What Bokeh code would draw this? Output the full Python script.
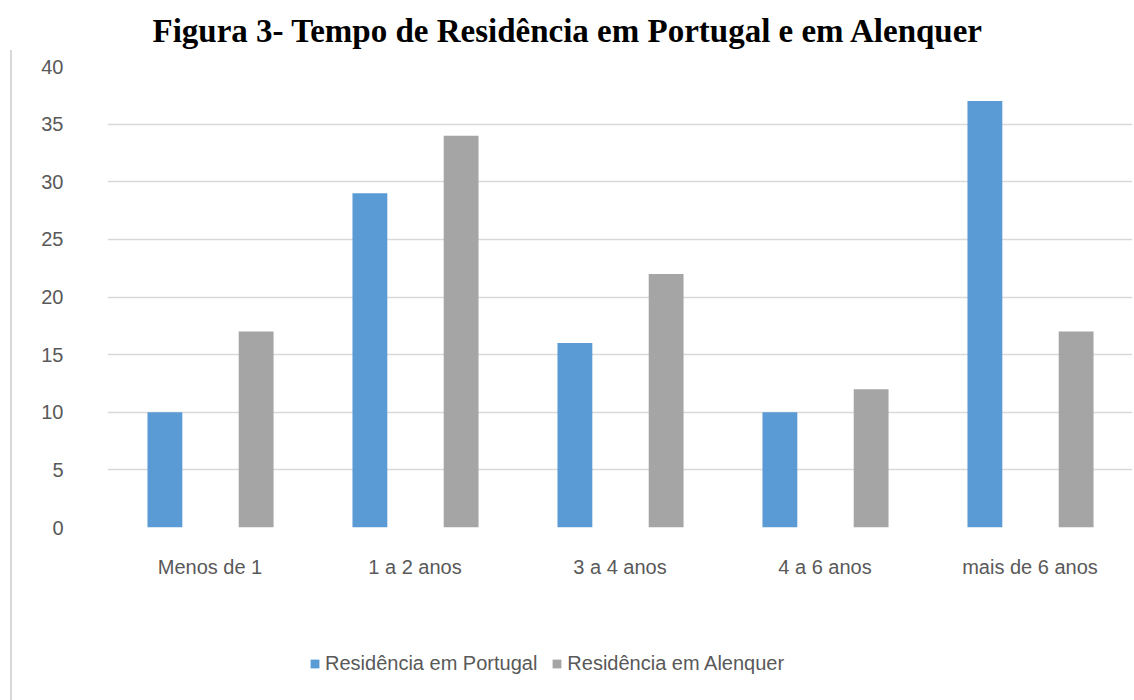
from bokeh.plotting import figure
from bokeh.models import (FactorRange, ColumnDataSource, Legend, LegendItem, Label,
                          FixedTicker, Div)
from bokeh.layouts import row, column
from bokeh.transform import dodge
from bokeh.embed import file_html
from bokeh.resources import INLINE

categories = ["Menos de 1", "1 a 2 anos", "3 a 4 anos", "4 a 6 anos", "mais de 6 anos"]
portugal = [10, 29, 16, 10, 37]
alenquer = [17, 34, 22, 12, 17]
series_names = ["Residência em Portugal", "Residência em Alenquer"]
title_text = "Figura 3- Tempo de Residência em Portugal e em Alenquer"
y_ticks = [0, 5, 10, 15, 20, 25, 30, 35, 40]

BLUE = "#5B9BD5"
GREY = "#A5A5A5"
TXT = "#595959"
FONT = "Liberation Sans"
W = 1111


def bare(fig):
    fig.axis.visible = False
    fig.grid.visible = False
    fig.outline_line_color = None
    fig.border_fill_color = "white"
    fig.background_fill_color = "white"


# title panel
pt = figure(x_range=(0, 1), y_range=(0, 1), width=W, height=50, output_backend="svg",
            toolbar_location=None, min_border_left=0, min_border_right=0,
            min_border_top=0, min_border_bottom=0)
bare(pt)
pt.add_layout(Label(x=45, y=20, x_units="screen", y_units="screen", text=title_text,
                    text_font="Liberation Serif", text_font_style="bold",
                    text_font_size="33px", text_color="#000000",
                    text_baseline="alphabetic", text_align="left"))

# main chart
src = ColumnDataSource(dict(cat=categories, pt=portugal, al=alenquer))

p = figure(x_range=FactorRange(*categories, range_padding=0), y_range=(0, 40),
           width=W, height=550, output_backend="svg", toolbar_location=None,
           min_border_left=85, min_border_right=1, min_border_top=16, min_border_bottom=73)
p.outline_line_color = None
p.background_fill_color = "white"
p.border_fill_color = "white"

r1 = p.vbar(x=dodge("cat", -0.22, range=p.x_range), top="pt", width=0.17, source=src,
            fill_color=BLUE, line_color=None)
r2 = p.vbar(x=dodge("cat", 0.225, range=p.x_range), top="al", width=0.17, source=src,
            fill_color=GREY, line_color=None)

p.xgrid.grid_line_color = None
p.ygrid.grid_line_color = "#D9D9D9"
p.ygrid.grid_line_width = 1.5
p.ygrid.ticker = FixedTicker(ticks=y_ticks)
p.yaxis.ticker = FixedTicker(ticks=y_ticks)

for ax in (p.xaxis, p.yaxis):
    ax.axis_line_color = None
    ax.major_tick_line_color = None
    ax.minor_tick_line_color = None
    ax.major_label_text_color = TXT
    ax.major_label_text_font = FONT
    ax.major_label_text_font_size = "20px"
p.yaxis.major_label_standoff = 38
p.xaxis.major_label_standoff = 22

# legend panel (swatches come from two zero-height placeholder bars)
p2 = figure(x_range=(0, 1), y_range=(0, 1), width=W, height=99,
            output_backend="svg", toolbar_location=None,
            min_border_left=0, min_border_right=0, min_border_top=0, min_border_bottom=0)
bare(p2)
dummy = ColumnDataSource(dict(x=[0.5], top=[0]))
d1 = p2.vbar(x="x", top="top", width=0.01, source=dummy, fill_color=BLUE, line_color=None)
d2 = p2.vbar(x="x", top="top", width=0.01, source=dummy, fill_color=GREY, line_color=None)
legend = Legend(items=[LegendItem(label=series_names[0], renderers=[d1]),
                       LegendItem(label=series_names[1], renderers=[d2])],
                orientation="horizontal", location=(202, 24),
                label_text_font=FONT, label_text_font_size="20px", label_text_color=TXT,
                glyph_width=11, glyph_height=11, spacing=14, label_standoff=5,
                border_line_color=None, background_fill_alpha=0,
                margin=0, padding=5)
p2.add_layout(legend, "center")

line_div = Div(text="", width=2, height=650, margin=(50, 10, 0, 10),
               styles={"background-color": "#D9D9D9"})

layout = row(line_div, column(pt, p, p2, spacing=0), spacing=0)
open("out.html", "w").write(file_html(layout, INLINE))
